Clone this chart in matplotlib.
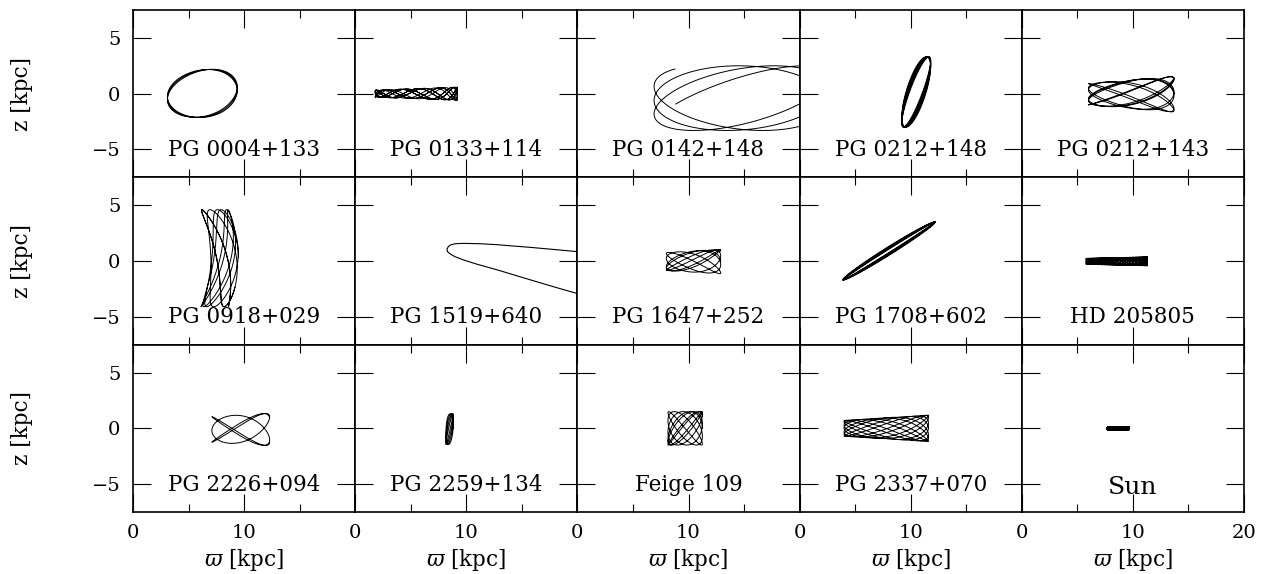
import numpy as np
import matplotlib
matplotlib.use("Agg")
import matplotlib.pyplot as plt

plt.rcParams["font.family"] = "DejaVu Serif"
plt.rcParams["mathtext.fontset"] = "dejavuserif"

# === Données (kpc) ===
names = ["PG 0004+133", "PG 0133+114", "PG 0142+148", "PG 0212+148", "PG 0212+143",
         "PG 0918+029", "PG 1519+640", "PG 1647+252", "PG 1708+602", "HD 205805",
         "PG 2226+094", "PG 2259+134", "Feige 109", "PG 2337+070", "Sun"]

# paramètres des orbites méridiennes : rayon moyen, amplitude radiale,
# z moyen, amplitude verticale, évasement, courbure, rapport de fréquences,
# phase, départ et nombre de tours radiaux
r_mid   = [6.25, 5.5, 14.8, 10.5, 9.85, 7.8, None, 10.45, 8.05, 8.55, 9.7, 8.5, 9.7, 7.8, 8.68]
r_amp   = [3.15, 3.7, 7.9, 1.3, 3.85, 1.25, None, 2.45, 4.15, 2.75, 2.6, 0.33, 1.55, 3.8, 0.92]
z_mid   = [0.0, 0.0, -0.4, 0.15, -0.05, 0.25, None, -0.05, 0.9, -0.03, -0.1, -0.07, 0.0, 0.0, 0.0]
z_amp   = [2.15, 0.45, 2.9, 3.15, 1.28, 4.35, None, 0.95, 2.6, 0.33, 1.3, 1.37, 1.5, 0.95, 0.05]
z_taper = [0.06, 0.3, 0.0, 0.0, 0.25, 0.0, None, 0.15, 0.0, 0.2, 0.12, 0.0, 0.0, 0.25, 0.0]
r_bend  = [0.0, 0.0, 0.0, 0.0, 0.0, 0.45, None, 0.0, 0.0, 0.0, 0.0, 0.0, 0.0, 0.0, 0.0]
freq    = [1.012, 4.3, 1.07, 1.01, 1.17, 1.15, None, 1.27, 1.004, 5.3, 1.25, 1.06, 1.23, 1.43, 6.37]
phase   = [0.08, 0.0, 2.41, 0.75, 0.0, 0.0, None, 0.0, 1.40, 0.0, 0.7, 0.0, 0.0, 0.0, 0.0]
t_start = [0.0, 0.0, -2.43, 0.0, 0.0, 0.0, None, 0.0, 0.0, 0.0, 0.0, 0.0, 0.0, 0.0, 0.0]
n_loops = [3, 6, 3, 6, 7, 6, None, 5, 5, 10, 3, 4, 6, 7, 8]

# PG 1519+640 : un seul passage au péricentre, relevé point par point
pg1519_r = [20.1, 17.8, 15.8, 14.0, 12.8, 11.2, 9.8, 9.0, 8.56, 8.35, 8.26, 8.32,
            8.56, 9.0, 9.76, 11.0, 12.8, 14.3, 15.8, 18.0, 20.1]
pg1519_z = [0.83, 1.04, 1.22, 1.36, 1.46, 1.55, 1.58, 1.55, 1.43, 1.25, 1.04, 0.82,
            0.63, 0.38, 0.09, -0.3, -0.8, -1.25, -1.7, -2.35, -2.95]

fig = plt.figure(figsize=(12.64, 5.74), dpi=100)
gs = fig.add_gridspec(3, 5, left=133/1264, right=1244/1264,
                      top=1-10/574, bottom=1-512/574, wspace=0, hspace=0)

for i, name in enumerate(names):
    row, col = divmod(i, 5)
    ax = fig.add_subplot(gs[row, col])

    if r_mid[i] is None:
        ax.plot(pg1519_r, pg1519_z, color="black", lw=0.8)
    else:
        t = np.linspace(t_start[i], t_start[i] + 2*np.pi*n_loops[i], 4000*n_loops[i])
        psi = freq[i]*t + phase[i]
        R = r_mid[i] + r_amp[i]*np.cos(t) + r_bend[i]*np.cos(2*psi)
        z = z_mid[i] + z_amp[i]*(1 + z_taper[i]*np.cos(t))*np.sin(psi)
        ax.plot(R, z, color="black", lw=2.2 if name == "Sun" else 0.7,
                solid_capstyle="butt")

    ax.set_xlim(0, 20)
    ax.set_ylim(-7.5, 7.5)
    ax.set_xticks([0, 10, 20])
    ax.set_xticks([5, 15], minor=True)
    ax.set_yticks([-5, 0, 5])
    ax.tick_params(which="both", direction="in", top=True, right=True,
                   width=0.8, labelsize=14, pad=9)
    ax.tick_params(which="major", length=13)
    ax.tick_params(which="minor", length=6)
    for s in ax.spines.values():
        s.set_linewidth(1.2)

    if col == 0:
        ax.set_yticklabels(["−5", "0", "5"])
        ax.set_ylabel("z [kpc]", fontsize=15.5, labelpad=42)
    else:
        ax.set_yticklabels([])
    if row == 2:
        ax.set_xticklabels(["0", "10", "20" if col == 4 else ""])
        ax.set_xlabel(r"$\varpi$ [kpc]", fontsize=15.5, labelpad=3)
    else:
        ax.set_xticklabels([])

    if name == "Sun":
        ax.text(10, -5.85, name, ha="center", va="baseline", fontsize=18)
    else:
        ax.text(10, -5.6, name, ha="center", va="baseline", fontsize=15.5)

fig.savefig("out.png", dpi=100)
